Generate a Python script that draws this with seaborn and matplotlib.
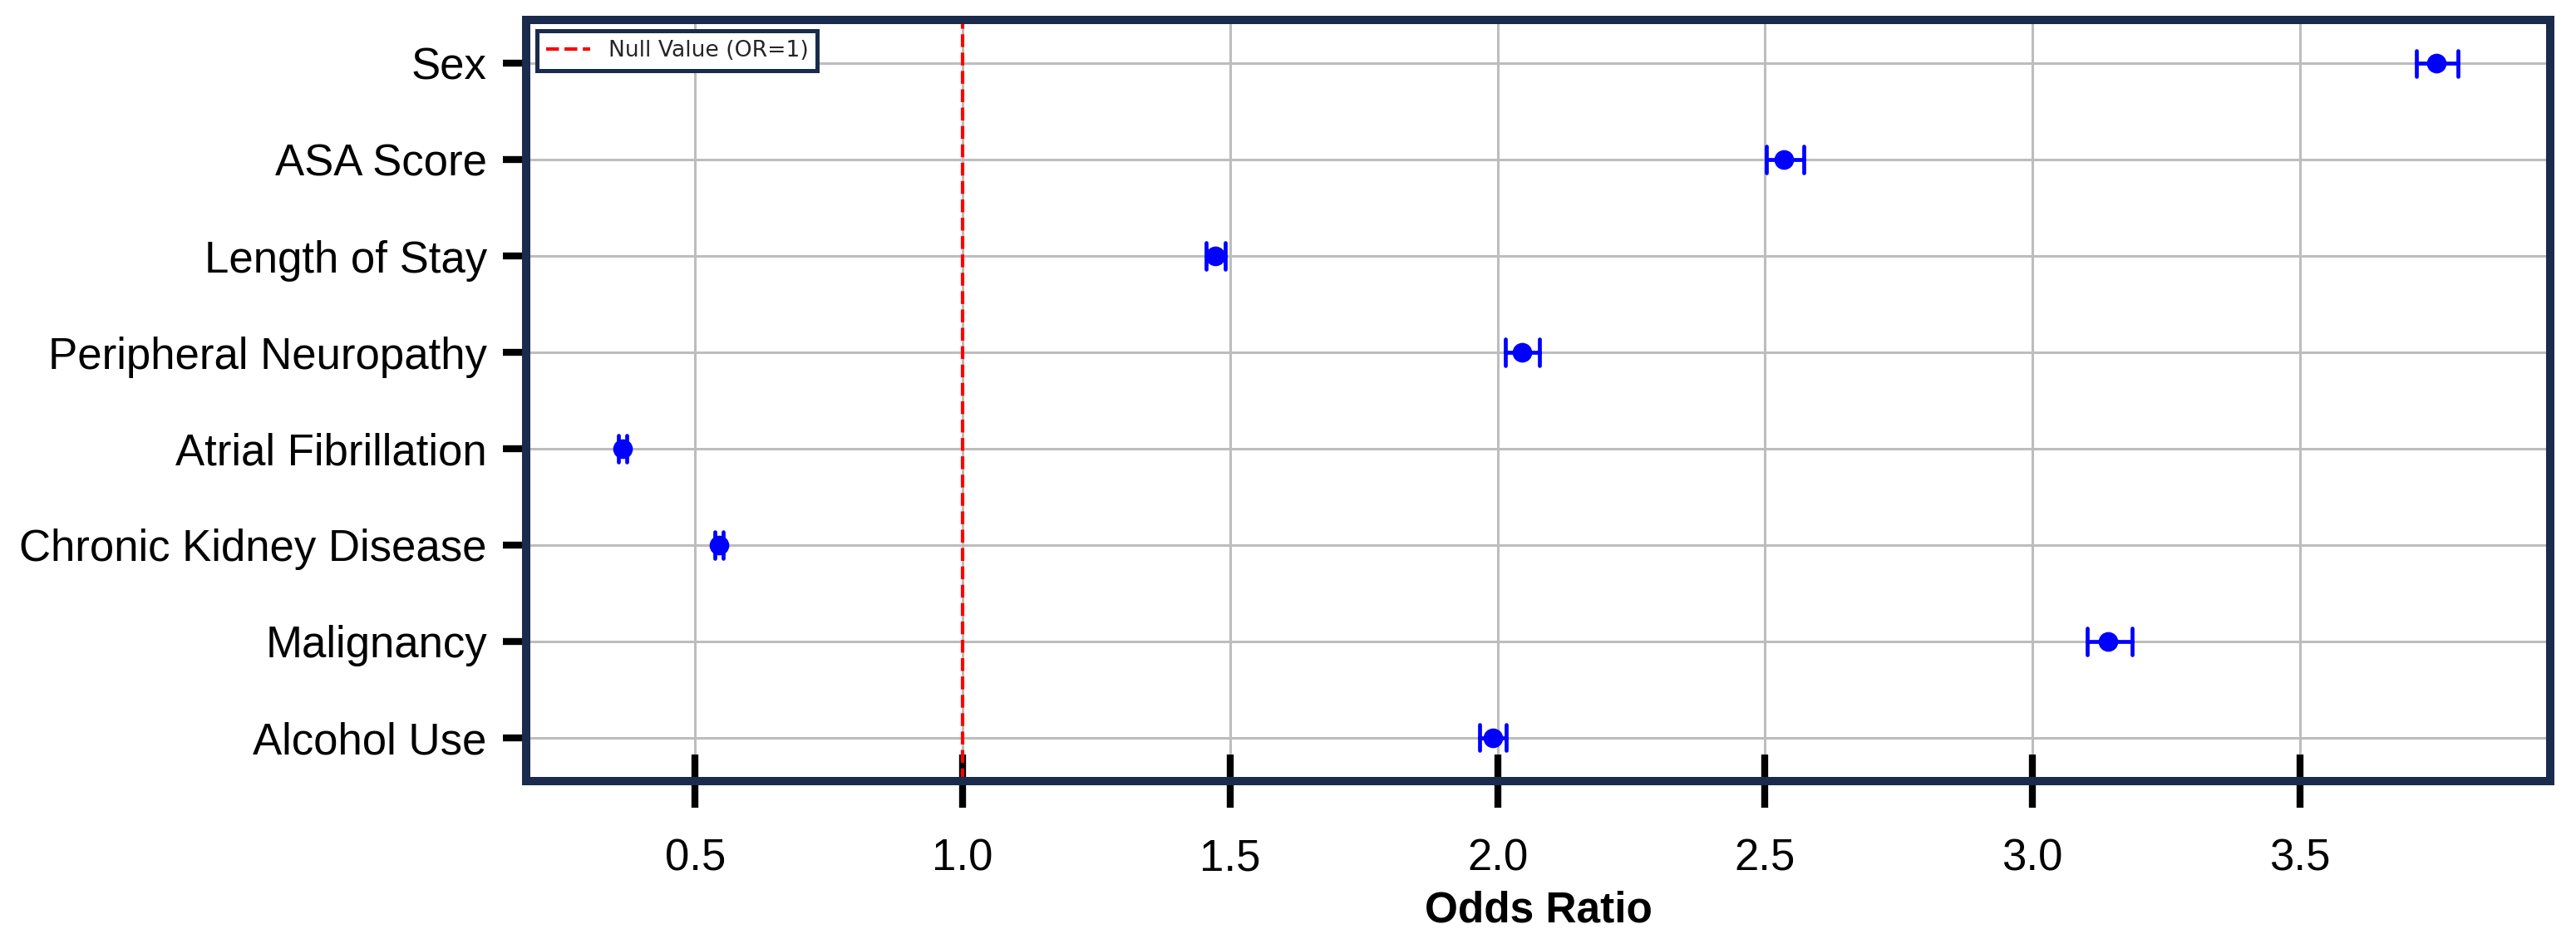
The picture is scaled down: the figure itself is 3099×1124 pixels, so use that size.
import numpy as np
import pandas as pd
import matplotlib
matplotlib.use("Agg")
import matplotlib.pyplot as plt
import seaborn as sns

# ---- data ----
categories = ["Sex", "ASA Score", "Length of Stay", "Peripheral Neuropathy",
              "Atrial Fibrillation", "Chronic Kidney Disease", "Malignancy", "Alcohol Use"]
odds_ratio = [3.755, 2.535, 1.472, 2.046, 0.364, 0.544, 3.141, 1.991]
ci_lower = [3.718, 2.503, 1.455, 2.015, 0.356, 0.536, 3.103, 1.966]
ci_upper = [3.796, 2.572, 1.491, 2.078, 0.372, 0.553, 3.186, 2.016]
x_ticks = [0.5, 1.0, 1.5, 2.0, 2.5, 3.0, 3.5]
null_value = 1.0

# long-form table: low / estimate / high per category -> median + full-range interval
rows = []
for c, o, lo, hi in zip(categories, odds_ratio, ci_lower, ci_upper):
    for v in (lo, o, hi):
        rows.append({"Variable": c, "Odds Ratio": v})
df = pd.DataFrame(rows)

sns.set_theme(style="whitegrid")
plt.rcParams["font.family"] = ["Liberation Sans", "DejaVu Sans"]

NAVY = "#1a2b4e"
W, H, DPI = 3099, 1124, 200
fig = plt.figure(figsize=(W / DPI, H / DPI), dpi=DPI)
fig.patch.set_facecolor("white")
ax = fig.add_axes([633 / W, 1 - 940 / H, (3068 - 633) / W, (940 - 24) / H])

sns.pointplot(data=df, x="Odds Ratio", y="Variable", order=categories,
              estimator="median", errorbar=("pi", 100), orient="h",
              linestyle="none", color="blue", markers="o", markersize=6.5,
              capsize=0.27, err_kws={"linewidth": 1.7}, legend=False, ax=ax)

ax.axvline(null_value, color="red", linestyle="--", linewidth=1.5,
           label="Null Value (OR=1)", zorder=1)

ax.set_xlim(0.184, 3.968)
ax.set_ylim(len(categories) - 0.55, -0.45)
ax.set_xticks(x_ticks)
ax.set_xticklabels([f"{t:.1f}" for t in x_ticks])

ax.grid(True, color="#bdbdbd", linewidth=1.1)
ax.set_axisbelow(True)
for s in ax.spines.values():
    s.set_visible(True)
    s.set_color(NAVY)
    s.set_linewidth(3.6)
    s.set_zorder(2.5)

ax.tick_params(axis="x", bottom=True, direction="inout", length=23, width=3,
               color="black", labelsize=19, pad=13, labelcolor="black")
ax.tick_params(axis="y", left=True, direction="out", length=10, width=3,
               color="black", labelsize=19, pad=7, labelcolor="black")
for t in ax.get_xticklines() + ax.get_yticklines():
    t.set_zorder(5)

ax.set_xlabel("Odds Ratio", fontsize=18.5, fontweight="bold", labelpad=5, color="black")
ax.set_ylabel("")

leg = ax.legend(loc="upper left", prop={"family": "DejaVu Sans", "size": 9.6},
                frameon=True, fancybox=False, framealpha=1.0, edgecolor=NAVY,
                borderaxespad=0.5)
leg.get_frame().set_linewidth(1.8)

fig.savefig("out.png", dpi=DPI, facecolor="white")
